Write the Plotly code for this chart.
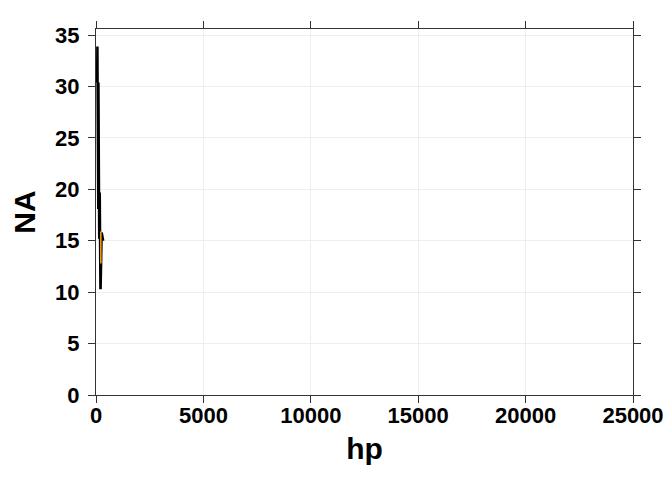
import plotly.graph_objects as go

# black line series (hp vs value), sorted by hp
hp = [52, 62, 65, 66, 66, 91, 93, 95, 97, 105, 109, 110, 110, 110, 113, 123, 123,
      150, 150, 175, 175, 175, 180, 180, 180, 205, 215, 230, 245, 245, 264, 335]
val = [30.4, 24.4, 33.9, 32.4, 27.3, 26.0, 22.8, 22.8, 21.5, 18.1, 21.4, 21.0, 21.0, 21.4, 30.4, 19.2, 17.8,
       15.5, 15.2, 18.7, 19.2, 19.7, 16.4, 17.3, 15.2, 10.4, 10.4, 14.7, 14.3, 13.3, 15.8, 15.0]

# orange segment
hp_orange = [225, 225]
val_orange = [15.9, 12.8]

x_ticks = [0, 5000, 10000, 15000, 20000, 25000]
y_ticks = [0, 5, 10, 15, 20, 25, 30, 35]

FONT = "Liberation Sans, Arial"

fig = go.Figure()
fig.add_trace(go.Scatter(x=hp, y=val, mode="lines",
                         line=dict(color="black", width=2.5), showlegend=False))
fig.add_trace(go.Scatter(x=hp_orange, y=val_orange, mode="lines",
                         line=dict(color="#FFA500", width=1.5), showlegend=False))

axis_common = dict(
    showline=True, linecolor="#333333", linewidth=1, mirror="ticks",
    ticks="outside", ticklen=7, tickcolor="#333333", tickwidth=1,
    showgrid=True, gridcolor="#EEEEEE", gridwidth=1, zeroline=False,
    automargin=False,
    tickfont=dict(family=FONT, size=22, color="black", weight="bold"),
)

fig.update_layout(
    width=664, height=472,
    margin=dict(l=88, r=39, t=21, b=85),
    paper_bgcolor="white", plot_bgcolor="white",
    xaxis=dict(range=[0, 25000], tickvals=x_ticks, ticktext=[str(t) for t in x_ticks],
               ticklabelstandoff=-6,
               title=dict(text="hp", font=dict(family=FONT, size=30, color="black", weight="bold"),
                          standoff=10),
               **axis_common),
    yaxis=dict(range=[0, 35.595], tickvals=y_ticks, ticktext=[str(t) for t in y_ticks],
               ticklabelstandoff=4,
               title=dict(text="NA", font=dict(family=FONT, size=30, color="black", weight="bold"),
                          standoff=14),
               **axis_common),
)

fig.write_html("out.html")
